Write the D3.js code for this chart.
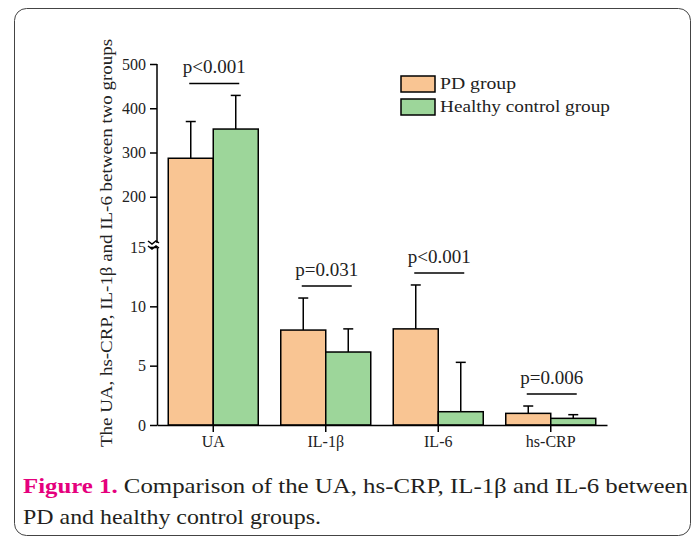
<!DOCTYPE html>
<html>
<head>
<meta charset="utf-8">
<script src="https://cdn.jsdelivr.net/npm/d3@7"></script>
<style>
  body { margin: 0; background: #fff; }
  svg text { font-family: "Liberation Serif", "Times New Roman", serif; }
</style>
</head>
<body>
<svg id="chart" width="697" height="541"></svg>
<script>
// values
var categories = ["UA", "IL-1β", "IL-6", "hs-CRP"];
var groups = ["PD group", "Healthy control group"];
var pdMean = [287, 8.0, 8.1, 0.98];
var pdSD = [83, 2.7, 3.7, 0.62];
var hcMean = [353, 6.15, 1.12, 0.56];
var hcSD = [76, 1.95, 4.16, 0.31];
var pLabels = ["p<0.001", "p=0.031", "p<0.001", "p=0.006"];
var lowerTicks = [0, 5, 10, 15];
var upperTicks = [200, 300, 400, 500];

var colors = ["#F9C593", "#9DD69A"];

var svg = d3.select("#chart");

// frame
svg.append("rect")
    .attr("x", 14.5).attr("y", 8.5)
    .attr("width", 676).attr("height", 527)
    .attr("rx", 12)
    .attr("fill", "none")
    .attr("stroke", "#444")
    .attr("stroke-width", 1);

var left = 157, right = 607, base = 425;

var x0 = d3.scaleBand()
    .domain(categories)
    .range([left, right])
    .paddingInner(0.2)
    .paddingOuter(0.1);

var x1 = d3.scaleBand()
    .domain([0, 1])
    .range([0, x0.bandwidth()]);

// broken y axis: two linear pieces
var yLow = d3.scaleLinear().domain([0, 15]).range([base, 247]);
var yHigh = d3.scaleLinear().domain([100, 500]).range([241, 64]);
function y(v) {
    return v <= 15 ? yLow(v) : yHigh(v);
}

var rows = [];
categories.forEach(function (c, i) {
    rows.push({cat: c, g: 0, mean: pdMean[i], sd: pdSD[i]});
    rows.push({cat: c, g: 1, mean: hcMean[i], sd: hcSD[i]});
});

var g = svg.append("g");

// error bars (drawn first so bars sit on top of the stems)
var err = g.append("g").selectAll("g")
    .data(rows)
    .enter().append("g")
    .attr("stroke", "#000")
    .attr("stroke-width", 1.5);

err.append("line")
    .attr("x1", function (d) { return x0(d.cat) + x1(d.g) + x1.bandwidth() / 2; })
    .attr("x2", function (d) { return x0(d.cat) + x1(d.g) + x1.bandwidth() / 2; })
    .attr("y1", function (d) { return y(d.mean); })
    .attr("y2", function (d) { return y(d.mean + d.sd); });

err.append("line")
    .attr("x1", function (d) { return x0(d.cat) + x1(d.g) + x1.bandwidth() / 2 - 5; })
    .attr("x2", function (d) { return x0(d.cat) + x1(d.g) + x1.bandwidth() / 2 + 5; })
    .attr("y1", function (d) { return y(d.mean + d.sd); })
    .attr("y2", function (d) { return y(d.mean + d.sd); });

// bars
g.append("g").selectAll("rect")
    .data(rows)
    .enter().append("rect")
    .attr("x", function (d) { return x0(d.cat) + x1(d.g); })
    .attr("y", function (d) { return y(d.mean); })
    .attr("width", x1.bandwidth())
    .attr("height", function (d) { return base - y(d.mean); })
    .attr("fill", function (d) { return colors[d.g]; })
    .attr("stroke", "#000")
    .attr("stroke-width", 1.5);

// x axis
var xAxis = svg.append("g")
    .attr("transform", "translate(0," + base + ")")
    .call(d3.axisBottom(x0).tickSize(7).tickSizeOuter(0).tickPadding(4));

// y axis, lower and upper pieces
var yAxisLow = svg.append("g")
    .attr("transform", "translate(" + left + ",0)")
    .call(d3.axisLeft(yLow).tickValues(lowerTicks).tickSize(7).tickSizeOuter(0).tickPadding(4));

var yAxisHigh = svg.append("g")
    .attr("transform", "translate(" + left + ",0)")
    .call(d3.axisLeft(yHigh).tickValues(upperTicks).tickSize(7).tickSizeOuter(0).tickPadding(4));
yAxisHigh.select(".domain")
    .attr("d", "M0," + yHigh(500) + "V" + (yLow(15) - 4));

[xAxis, yAxisLow, yAxisHigh].forEach(function (a) {
    a.selectAll("path, line").attr("stroke", "#000").attr("stroke-width", 1.5);
    a.selectAll("text")
        .attr("fill", "#222")
        .style("font-family", "Liberation Serif, serif")
        .style("font-size", "16px");
});

// break mark on the y axis
var brk = svg.append("g").attr("stroke", "#000").attr("stroke-width", 1.5).attr("fill", "none");
brk.append("path").attr("d", "M" + (left - 9) + "," + (yLow(15) - 6) + "l4,3l4,-3l3,2");
brk.append("path").attr("d", "M" + (left - 9) + "," + (yLow(15) - 1) + "l4,3l4,-3l3,2");

// significance brackets
categories.forEach(function (c, i) {
    var top = Math.min(y(pdMean[i] + pdSD[i]), y(hcMean[i] + hcSD[i]));
    var cx = x0(c) + x0.bandwidth() / 2;
    var by = top - 12;
    svg.append("line")
        .attr("x1", cx - 24).attr("x2", cx + 26)
        .attr("y1", by).attr("y2", by)
        .attr("stroke", "#000").attr("stroke-width", 1.5);
    svg.append("text")
        .attr("x", cx + 1).attr("y", by - 10)
        .attr("text-anchor", "middle")
        .attr("fill", "#222")
        .style("font-size", "19px")
        .text(pLabels[i]);
});

// y label
svg.append("text")
    .attr("transform", "translate(112,243) rotate(-90)")
    .attr("text-anchor", "middle")
    .attr("fill", "#222")
    .attr("textLength", 408)
    .attr("lengthAdjust", "spacingAndGlyphs")
    .style("font-size", "16px")
    .text("The UA, hs-CRP, IL-1β and IL-6 between two groups");

// legend
var legendW = [76, 170];
var legend = svg.append("g").selectAll("g")
    .data(groups)
    .enter().append("g")
    .attr("transform", function (d, i) { return "translate(401," + (76 + i * 23) + ")"; });
legend.append("rect")
    .attr("width", 34).attr("height", 16)
    .attr("fill", function (d, i) { return colors[i]; })
    .attr("stroke", "#000").attr("stroke-width", 1.5);
legend.append("text")
    .attr("x", 39).attr("y", 13)
    .attr("fill", "#222")
    .attr("textLength", function (d, i) { return legendW[i]; })
    .attr("lengthAdjust", "spacingAndGlyphs")
    .style("font-size", "16px")
    .text(function (d) { return d; });

// caption
var cap1 = svg.append("text")
    .attr("x", 23).attr("y", 493)
    .attr("fill", "#231F20")
    .attr("textLength", 665)
    .attr("lengthAdjust", "spacingAndGlyphs")
    .style("font-size", "21px");
cap1.append("tspan")
    .attr("fill", "#E5007D")
    .style("font-weight", "bold")
    .text("Figure 1.");
cap1.append("tspan").text(" Comparison of the UA, hs-CRP, IL-1β and IL-6 between");

svg.append("text")
    .attr("x", 23).attr("y", 524)
    .attr("fill", "#231F20")
    .attr("textLength", 298)
    .attr("lengthAdjust", "spacingAndGlyphs")
    .style("font-size", "21px")
    .text("PD and healthy control groups.");
</script>
</body>
</html>
